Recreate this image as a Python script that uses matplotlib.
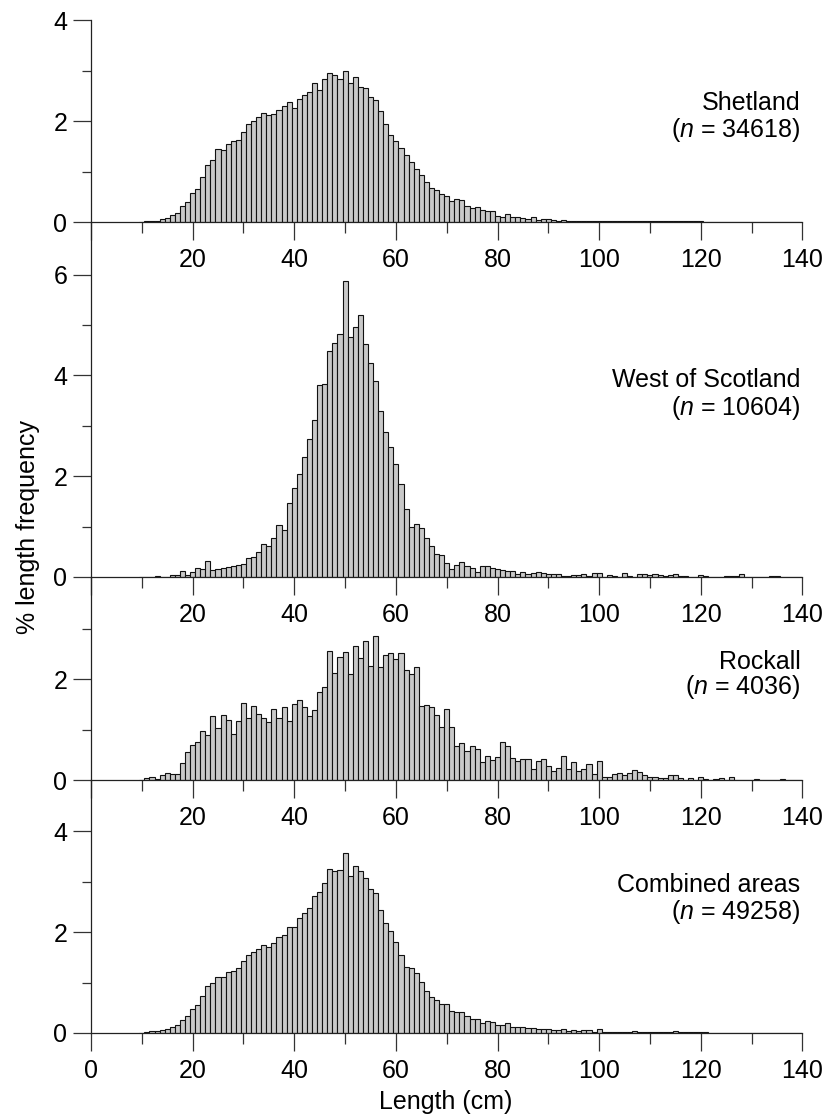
import numpy as np
import matplotlib
matplotlib.use("Agg")
import matplotlib.pyplot as plt

plt.rcParams['font.family'] = ['Liberation Sans', 'DejaVu Sans']
plt.rcParams['mathtext.fontset'] = 'custom'
plt.rcParams['mathtext.it'] = 'Liberation Sans:italic'
plt.rcParams['mathtext.rm'] = 'Liberation Sans'

# length classes (cm), 1-cm bins centred on integers
lengths = list(range(10, 141))

shetland = [
    0.00, 0.01, 0.01, 0.02, 0.06, 0.08, 0.13, 0.17, 0.31, 0.40,
    0.58, 0.66, 0.89, 1.13, 1.24, 1.44, 1.42, 1.55, 1.61, 1.63,
    1.79, 1.94, 2.00, 2.08, 2.16, 2.12, 2.14, 2.22, 2.31, 2.39,
    2.26, 2.45, 2.51, 2.57, 2.75, 2.62, 2.84, 2.96, 2.91, 2.84,
    2.99, 2.75, 2.87, 2.68, 2.65, 2.49, 2.42, 2.20, 1.94, 1.72,
    1.60, 1.46, 1.32, 1.19, 1.06, 0.94, 0.79, 0.67, 0.63, 0.56,
    0.52, 0.42, 0.46, 0.43, 0.32, 0.28, 0.30, 0.23, 0.22, 0.21,
    0.12, 0.10, 0.16, 0.09, 0.09, 0.08, 0.06, 0.09, 0.04, 0.05,
    0.05, 0.04, 0.02, 0.03, 0.02, 0.02, 0.02, 0.02, 0.01, 0.02,
    0.02, 0.01, 0.01, 0.01, 0.01, 0.01, 0.01, 0.01, 0.01, 0.01,
    0.01, 0.01, 0.01, 0.01, 0.01, 0.01, 0.01, 0.01, 0.01, 0.01,
    0.01, 0.005, 0.005, 0.005, 0.005, 0.005, 0.005, 0.005, 0.005, 0.005,
    0.005, 0.005, 0.005, 0.005, 0.005, 0.005, 0.005, 0.005, 0.005, 0.005,
    0.005,
]

west_scotland = [
    0.00, 0.00, 0.00, 0.01, 0.00, 0.00, 0.04, 0.04, 0.11, 0.03,
    0.09, 0.18, 0.15, 0.31, 0.13, 0.15, 0.17, 0.19, 0.21, 0.23,
    0.26, 0.37, 0.39, 0.49, 0.65, 0.62, 0.77, 1.03, 0.93, 1.47,
    1.76, 2.05, 2.39, 2.74, 3.11, 3.80, 3.83, 4.48, 4.64, 4.83,
    5.88, 4.76, 4.97, 5.20, 4.63, 4.25, 3.89, 3.29, 2.88, 2.57,
    2.25, 1.85, 1.35, 1.00, 1.05, 0.98, 0.77, 0.62, 0.46, 0.43,
    0.28, 0.16, 0.23, 0.30, 0.21, 0.17, 0.10, 0.21, 0.21, 0.17,
    0.15, 0.13, 0.12, 0.11, 0.06, 0.09, 0.06, 0.07, 0.09, 0.07,
    0.05, 0.06, 0.06, 0.01, 0.01, 0.04, 0.04, 0.06, 0.02, 0.07,
    0.07, 0.00, 0.03, 0.01, 0.00, 0.07, 0.02, 0.00, 0.05, 0.05,
    0.03, 0.05, 0.03, 0.02, 0.03, 0.06, 0.02, 0.01, 0.00, 0.00,
    0.04, 0.02, 0.00, 0.00, 0.00, 0.01, 0.02, 0.02, 0.06, 0.00,
    0.00, 0.00, 0.00, 0.00, 0.01, 0.01, 0.00, 0.00, 0.00, 0.00,
    0.00,
]

rockall = [
    0.00, 0.03, 0.06, 0.01, 0.09, 0.14, 0.11, 0.11, 0.34, 0.56,
    0.69, 0.76, 0.98, 0.89, 1.26, 1.04, 1.28, 1.20, 0.91, 1.18,
    1.53, 1.24, 1.46, 1.30, 1.24, 1.16, 1.41, 1.24, 1.44, 1.18,
    1.51, 1.58, 1.44, 1.26, 1.38, 1.75, 1.85, 2.55, 2.13, 2.45,
    2.53, 2.10, 2.65, 2.43, 2.76, 2.26, 2.85, 2.24, 2.48, 2.51,
    2.41, 2.51, 2.18, 2.10, 2.25, 1.47, 1.48, 1.44, 1.28, 1.06,
    1.40, 1.06, 0.68, 0.73, 0.58, 0.67, 0.61, 0.36, 0.48, 0.39,
    0.46, 0.76, 0.67, 0.43, 0.38, 0.41, 0.42, 0.21, 0.38, 0.41,
    0.28, 0.17, 0.23, 0.48, 0.21, 0.36, 0.17, 0.21, 0.31, 0.11,
    0.38, 0.05, 0.05, 0.12, 0.13, 0.09, 0.13, 0.20, 0.15, 0.09,
    0.06, 0.05, 0.03, 0.04, 0.09, 0.09, 0.03, 0.00, 0.03, 0.00,
    0.06, 0.02, 0.00, 0.02, 0.03, 0.00, 0.05, 0.00, 0.00, 0.00,
    0.00, 0.02, 0.00, 0.00, 0.00, 0.00, 0.02, 0.00, 0.00, 0.00,
    0.00,
]

combined = [
    0.00, 0.01, 0.03, 0.04, 0.06, 0.08, 0.11, 0.15, 0.26, 0.34,
    0.48, 0.56, 0.73, 0.93, 0.99, 1.12, 1.12, 1.22, 1.24, 1.28,
    1.43, 1.54, 1.61, 1.67, 1.75, 1.71, 1.78, 1.90, 1.94, 2.10,
    2.10, 2.29, 2.39, 2.49, 2.72, 2.80, 2.98, 3.26, 3.22, 3.23,
    3.57, 3.12, 3.31, 3.21, 3.08, 2.86, 2.78, 2.44, 2.18, 2.03,
    1.80, 1.55, 1.31, 1.29, 1.19, 1.01, 0.83, 0.71, 0.65, 0.58,
    0.58, 0.43, 0.41, 0.41, 0.33, 0.28, 0.28, 0.20, 0.23, 0.22,
    0.15, 0.15, 0.19, 0.12, 0.11, 0.11, 0.09, 0.09, 0.08, 0.08,
    0.07, 0.05, 0.05, 0.07, 0.04, 0.05, 0.03, 0.05, 0.05, 0.02,
    0.07, 0.02, 0.02, 0.02, 0.02, 0.02, 0.02, 0.04, 0.02, 0.02,
    0.02, 0.02, 0.02, 0.02, 0.02, 0.03, 0.01, 0.01, 0.01, 0.01,
    0.01, 0.01, 0.005, 0.005, 0.005, 0.005, 0.005, 0.005, 0.005, 0.005,
    0.005, 0.005, 0.005, 0.005, 0.005, 0.005, 0.005, 0.005, 0.005, 0.005,
    0.005,
]

names = ["Shetland", "West of Scotland", "Rockall", "Combined areas"]
counts = ["34618", "10604", "4036", "49258"]
series = [shetland, west_scotland, rockall, combined]

W, H = 825, 1118
fig = plt.figure(figsize=(W / 100, H / 100), dpi=100)

px_per_unit = 50.4
x0_px, x1_px = 91, 802.4
zeros_px = [222, 577, 780, 1033]
tops_px = [222 - 4 * px_per_unit, 222, 577, 780]
ymajor = [[0, 2, 4], [0, 2, 4, 6], [0, 2], [0, 2, 4]]
yminor = [[1, 3], [1, 3, 5], [1, 3], [1, 3]]
label_y = [(2.36, 1.83), (3.91, 3.35), (2.34, 1.84), (2.94, 2.40)]

fs = 18
for i in range(4):
    top, bot = tops_px[i], zeros_px[i]
    ax = fig.add_axes([x0_px / W, 1 - bot / H, (x1_px - x0_px) / W, (bot - top) / H])
    ax.patch.set_visible(False)
    ax.bar(lengths, series[i], width=1.0, color='#c9c9c9', edgecolor='#111111',
           linewidth=0.8, zorder=2)
    ax.set_xlim(0, 140)
    ax.set_ylim(0, (bot - top) / px_per_unit)
    for s in ['top', 'right']:
        ax.spines[s].set_visible(False)
    for s in ['left', 'bottom']:
        ax.spines[s].set_linewidth(0.9)
        ax.spines[s].set_color('#222222')
        ax.spines[s].set_zorder(3)
    ax.set_xticks(range(0, 141, 20))
    ax.set_xticks(range(10, 140, 20), minor=True)
    if i < 3:
        ax.set_xticklabels([''] + [str(v) for v in range(20, 141, 20)])
    else:
        ax.set_xticklabels([str(v) for v in range(0, 141, 20)])
    ax.set_yticks(ymajor[i])
    ax.set_yticks(yminor[i], minor=True)
    ax.set_yticklabels([str(v) for v in ymajor[i]])
    ax.tick_params(axis='x', which='major', length=13, width=0.9, color='#333333',
                   labelsize=fs, pad=6)
    ax.tick_params(axis='x', which='minor', length=8, width=0.9, color='#333333')
    ax.tick_params(axis='y', which='major', length=13, width=0.9, color='#333333',
                   labelsize=fs, pad=4)
    ax.tick_params(axis='y', which='minor', length=6.5, width=0.9, color='#333333')
    ax.text(139.6, label_y[i][0], names[i], ha='right', va='center', fontsize=fs)
    ax.text(139.6, label_y[i][1], r'($\it{n}$ = ' + counts[i] + ')', ha='right',
            va='center', fontsize=fs)

fig.text(28 / W, 1 - 527 / H, '% length frequency', rotation=90, ha='center',
         va='center', fontsize=fs)
fig.text(446 / W, 1 - 1102 / H, 'Length (cm)', ha='center', va='center', fontsize=fs)

fig.savefig('out.png', dpi=100)
